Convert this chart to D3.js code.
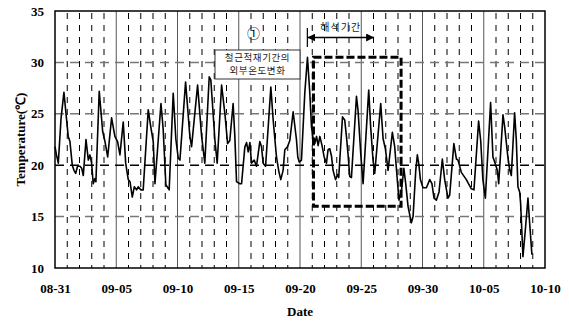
<!DOCTYPE html>
<html>
<head>
<meta charset="utf-8">
<script src="https://cdn.jsdelivr.net/npm/d3@7"></script>
<style>
  body { margin: 0; background: #fff; }
  text { font-family: "Liberation Serif", "Times New Roman", serif; }
  .kr { font-family: "Noto Sans CJK KR", sans-serif; }
</style>
</head>
<body>
<script>
// hourly-ish readings, days counted from 08-31 00:00
var days = [0.00,0.12,0.27,0.49,0.73,0.90,1.08,1.22,1.41,1.55,1.69,1.84,2.04,2.18,2.31,2.53,2.72,2.85,2.99,3.12,
  3.26,3.34,3.61,3.89,4.08,4.30,4.62,4.89,5.11,5.30,5.57,5.77,5.98,6.12,6.31,6.47,6.66,6.79,7.01,7.20,
  7.61,7.81,8.02,8.16,8.65,8.83,9.05,9.32,9.65,9.87,10.06,10.20,10.66,11.01,11.15,11.64,11.97,12.23,12.59,12.72,
  12.91,13.05,13.24,13.60,13.87,14.09,14.27,14.54,14.68,14.82,15.09,15.23,15.50,15.64,15.77,15.91,16.04,16.26,16.45,16.72,
  16.86,16.99,17.19,17.62,17.81,18.08,18.27,18.43,18.62,18.76,18.98,19.17,19.44,19.71,19.82,19.94,20.12,20.39,20.61,20.80,
  20.94,21.07,21.21,21.35,21.48,21.62,21.80,21.97,22.16,22.29,22.43,22.57,22.70,22.90,23.06,23.16,23.47,23.65,23.79,23.92,
  24.06,24.20,24.61,24.74,24.96,25.15,25.61,25.77,25.96,26.10,26.59,26.78,26.97,27.19,27.54,27.73,27.92,28.08,28.28,28.48,
  28.63,28.82,29.09,29.23,29.45,29.58,29.71,29.83,30.04,30.32,30.59,30.77,30.94,31.13,31.35,31.62,31.81,32.08,32.22,32.56,
  32.77,32.90,33.17,33.58,33.71,33.99,34.20,34.58,34.75,34.93,35.13,35.56,35.75,35.89,36.11,36.22,36.57,36.70,36.97,37.11,
  37.25,37.52,37.66,37.79,37.93,38.01,38.20,38.38,38.61,38.74,38.93];
var temps = [21.8,21.0,20.2,24.5,27.1,25.0,22.8,22.3,20.0,19.5,19.2,19.9,19.9,19.7,19.0,22.5,20.5,21.0,20.2,18.2,
  18.7,18.4,27.2,23.3,22.3,20.8,24.6,22.8,22.3,21.0,24.2,20.2,18.6,18.4,16.9,17.9,17.6,17.9,17.6,17.6,
  25.4,23.8,22.3,18.2,26.0,23.5,18.1,17.6,27.0,22.5,20.7,20.5,28.1,22.8,21.8,27.8,22.8,20.2,28.6,28.3,
  25.0,22.5,20.2,27.8,25.0,22.1,22.4,26.0,22.8,18.4,18.2,18.2,21.8,22.2,21.3,22.2,20.2,20.5,19.9,22.3,
  21.8,20.2,19.9,27.6,24.4,20.8,19.4,18.6,19.5,21.5,21.8,22.4,25.2,22.5,20.8,20.3,20.5,27.0,30.5,27.0,
  23.7,22.6,22.1,22.8,21.9,22.8,21.9,20.8,20.2,21.5,21.6,20.9,19.5,18.6,19.1,18.8,24.7,24.4,22.8,21.1,
  18.9,18.8,26.7,25.3,21.1,18.2,27.3,23.7,20.5,19.2,26.0,22.6,21.6,19.5,23.2,21.8,18.9,16.6,17.5,19.7,
  18.2,16.0,14.4,15.0,19.5,21.0,20.0,18.6,17.8,17.8,18.6,18.2,16.8,16.6,17.4,20.6,18.6,16.8,17.1,22.1,
  20.6,20.5,19.3,18.6,18.3,17.7,17.6,24.3,22.4,18.6,16.8,26.1,20.8,20.3,19.5,18.2,24.9,23.8,20.8,19.6,
  19.0,25.1,22.4,17.9,17.4,16.3,11.1,13.5,16.8,14.5,11.3];

var dateLabels = ["08-31","09-05","09-10","09-15","09-20","09-25","09-30","10-05","10-10"];
var yTicks = [10, 15, 20, 25, 30, 35];
// analysis period (days from 08-31) and the boxed temperature range
var periodDays = [21.1, 28.25];
var periodTemp = [16.0, 30.5];
var arrowDays = [20.6, 26.05];

var W = 569, H = 322;
var mLeft = 55, mRight = 545, mTop = 11, mBottom = 268;

var svg = d3.select("body").append("svg")
    .attr("width", W)
    .attr("height", H);

var x = d3.scaleLinear().domain([0, 40]).range([mLeft, mRight]);
var y = d3.scaleLinear().domain([10, 35]).range([mBottom, mTop]);

// daily dashed grid
var dayLines = d3.range(1, 40).filter(function(d) { return d % 5 != 0; });
svg.append("g").selectAll("line")
    .data(dayLines).enter().append("line")
    .attr("x1", function(d) { return x(d); })
    .attr("x2", function(d) { return x(d); })
    .attr("y1", mTop + 2).attr("y2", mBottom)
    .attr("stroke", "#000")
    .attr("stroke-width", 1)
    .attr("stroke-dasharray", "6,6");

// 5-day solid lines
svg.append("g").selectAll("line")
    .data([5, 10, 15, 20, 25, 30, 35]).enter().append("line")
    .attr("x1", function(d) { return x(d); })
    .attr("x2", function(d) { return x(d); })
    .attr("y1", mTop).attr("y2", mBottom)
    .attr("stroke", "#555")
    .attr("stroke-width", 1);

// horizontal dashed grid
svg.append("g").selectAll("line")
    .data([15, 20, 25, 30]).enter().append("line")
    .attr("x1", mLeft).attr("x2", mRight)
    .attr("y1", function(d) { return y(d); })
    .attr("y2", function(d) { return y(d); })
    .attr("stroke", function(d) { return d == 20 ? "#000" : "#777"; })
    .attr("stroke-width", 1.5)
    .attr("stroke-dasharray", "9,6");

// axes (labels only, frame drawn below)
var xAxis = d3.axisBottom(x)
    .tickValues(d3.range(0, 41, 5))
    .tickFormat(function(d, i) { return dateLabels[i]; })
    .tickSize(0).tickPadding(16);
var yAxis = d3.axisLeft(y)
    .tickValues(yTicks)
    .tickSize(0).tickPadding(11);

var gx = svg.append("g").attr("transform", "translate(0," + mBottom + ")").call(xAxis);
var gy = svg.append("g").attr("transform", "translate(" + mLeft + ",0)").call(yAxis);
[gx, gy].forEach(function(g) {
    g.select(".domain").remove();
    g.selectAll("text")
        .attr("font-family", "Liberation Serif")
        .attr("font-weight", "bold")
        .attr("font-size", 13)
        .attr("fill", "#000");
});

// temperature line
var line = d3.line()
    .x(function(d, i) { return x(days[i]); })
    .y(function(d) { return y(d); });
svg.append("path")
    .attr("d", line(temps))
    .attr("fill", "none")
    .attr("stroke", "#000")
    .attr("stroke-width", 1.6)
    .attr("stroke-linejoin", "round");

// frame
svg.append("rect")
    .attr("x", mLeft).attr("y", mTop)
    .attr("width", mRight - mLeft).attr("height", mBottom - mTop)
    .attr("fill", "none")
    .attr("stroke", "#000")
    .attr("stroke-width", 1.5);

// analysis period box
svg.append("rect")
    .attr("x", x(periodDays[0])).attr("y", y(periodTemp[1]))
    .attr("width", x(periodDays[1]) - x(periodDays[0]))
    .attr("height", y(periodTemp[0]) - y(periodTemp[1]))
    .attr("fill", "none")
    .attr("stroke", "#000")
    .attr("stroke-width", 3)
    .attr("stroke-dasharray", "8,3");

// arrow for 해석기간
var ay = 37.5;
svg.append("defs").append("marker")
    .attr("id", "head")
    .attr("viewBox", "0 0 10 10")
    .attr("refX", 10).attr("refY", 5)
    .attr("markerWidth", 8).attr("markerHeight", 8)
    .attr("markerUnits", "userSpaceOnUse")
    .attr("orient", "auto-start-reverse")
    .append("path").attr("d", "M0,0L10,5L0,10z").attr("fill", "#000");
svg.append("line")
    .attr("x1", x(arrowDays[0])).attr("x2", x(arrowDays[1]))
    .attr("y1", ay).attr("y2", ay)
    .attr("stroke", "#000").attr("stroke-width", 1.5)
    .attr("marker-start", "url(#head)")
    .attr("marker-end", "url(#head)");
svg.append("line")
    .attr("x1", x(arrowDays[0])).attr("x2", x(arrowDays[0]))
    .attr("y1", 28).attr("y2", 47)
    .attr("stroke", "#000").attr("stroke-width", 1.2);
svg.append("text")
    .attr("class", "kr")
    .attr("x", (x(arrowDays[0]) + x(arrowDays[1])) / 2).attr("y", 31)
    .attr("text-anchor", "middle")
    .attr("font-size", 10)
    .attr("letter-spacing", 1)
    .attr("fill", "#222")
    .text("해석기간");

// note box
svg.append("rect")
    .attr("x", 215).attr("y", 50)
    .attr("width", 85).attr("height", 29)
    .attr("fill", "#fff")
    .attr("stroke", "#333")
    .attr("stroke-width", 1);
svg.append("text")
    .attr("class", "kr")
    .attr("x", 257.5).attr("y", 61)
    .attr("text-anchor", "middle")
    .attr("font-size", 9.5)
    .attr("letter-spacing", 0.6)
    .attr("fill", "#222")
    .text("철근적재기간의");
svg.append("text")
    .attr("class", "kr")
    .attr("x", 257.5).attr("y", 73.5)
    .attr("text-anchor", "middle")
    .attr("font-size", 9.5)
    .attr("letter-spacing", 0.6)
    .attr("fill", "#222")
    .text("외부온도변화");
svg.append("text")
    .attr("class", "kr")
    .attr("x", 253.5).attr("y", 38)
    .attr("text-anchor", "middle")
    .attr("font-size", 13)
    .attr("fill", "#000")
    .text("①");

// axis titles
svg.append("text")
    .attr("transform", "translate(25," + ((mTop + mBottom) / 2) + ") rotate(-90)")
    .attr("text-anchor", "middle")
    .attr("font-weight", "bold")
    .attr("font-size", 13)
    .text("Temperature(℃)");
svg.append("text")
    .attr("x", (mLeft + mRight) / 2).attr("y", 316)
    .attr("text-anchor", "middle")
    .attr("font-weight", "bold")
    .attr("font-size", 13)
    .text("Date");
</script>
</body>
</html>
